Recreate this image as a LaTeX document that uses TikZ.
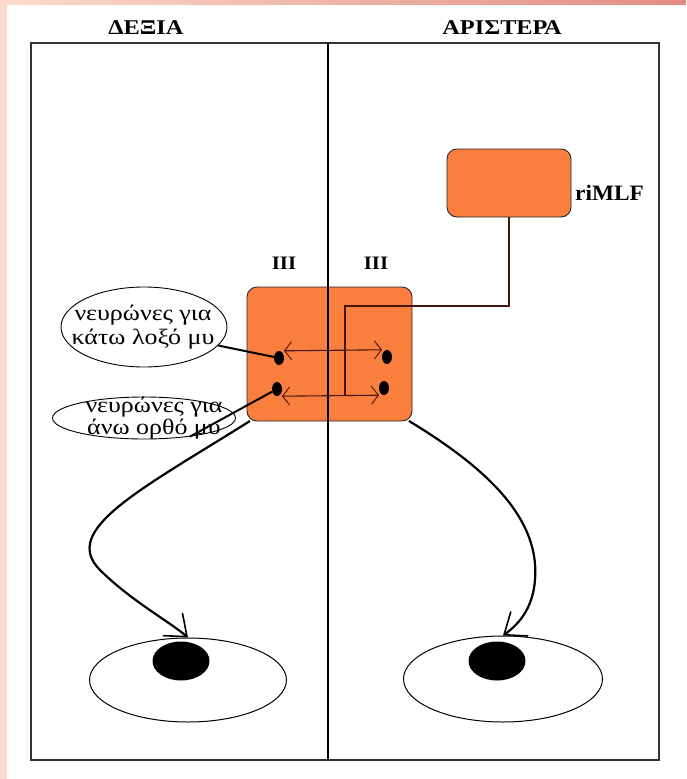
\documentclass[tikz,border=0pt]{standalone}
\usepackage{fontspec}
\usepackage{graphicx}
\setmainfont{Liberation Serif}
\usetikzlibrary{arrows.meta,shapes.geometric}
\definecolor{boxorange}{RGB}{250,126,62}
\definecolor{edgepink}{RGB}{252,218,206}
\definecolor{edgesalmon}{RGB}{226,140,132}
\definecolor{wire}{RGB}{70,22,16}
% slightly widened lettering
\newcommand{\widen}[2]{\scalebox{#1}[1]{#2}}

\begin{document}
\begin{tikzpicture}[x=1pt,y=-1pt,
  heading/.style={font=\bfseries\fontsize{21}{24}\selectfont, inner sep=0pt},
  numeral/.style={font=\bfseries\fontsize{19}{22}\selectfont, inner sep=0pt},
  caption/.style={align=center, inner sep=0pt},
  nucleus/.style={draw=black!85, fill=boxorange, rounded corners=10pt, line width=0.9pt, inner sep=0pt},
  bubble/.style={draw=black, ellipse, line width=0.9pt, inner sep=0pt},
  eyeball/.style={draw=black, ellipse, line width=1pt, inner sep=0pt},
  pupil/.style={fill=black, ellipse, inner sep=0pt, minimum width=57pt, minimum height=39pt},
  neuron/.style={fill=black, ellipse, inner sep=0pt, minimum width=10pt, minimum height=14pt},
  fibre/.style={line width=2pt, black},
  nerve/.style={line width=2.2pt, black, -{Straight Barb[length=19pt, width=30pt, line width=1.6pt]}},
  link/.style={line width=1.1pt, wire, {Straight Barb[length=7pt, width=18pt, line width=0.9pt]}-{Straight Barb[length=7pt, width=18pt, line width=0.9pt]}},
  panel/.style={line width=1.3pt, black!80}
]
\useasboundingbox (0,0) rectangle (686,779);
\fill[white] (0,0) rectangle (686,779);
% page edging
\fill[edgepink] (0,0) rectangle (7,779);
\shade[left color=edgepink, right color=edgesalmon] (0,0) rectangle (686,4);

% headings
\node[heading] (hright) at (146,28) {\widen{1.16}{ΔΕΞΙΑ}};
\node[heading] (hleft) at (502,28) {\widen{1.16}{ΑΡΙΣΤΕΡΑ}};

% nuclei
\node[nucleus, minimum width=165pt, minimum height=134pt] (III) at (329.5,354) {};
\node[nucleus, minimum width=124pt, minimum height=68pt] (riMLF) at (509,183) {};
\node[font=\bfseries\fontsize{22}{24}\selectfont, anchor=west, inner sep=0pt] (riMLFtext) at (575,193) {\widen{1.06}{riMLF}};
\node[numeral] (IIIr) at (284,263) {\widen{1.1}{III}};
\node[numeral] (IIIl) at (376,263) {\widen{1.1}{III}};

% panels
\draw[panel] (31,43) rectangle (659,760);
\coordinate (midtop) at (328,43);
\coordinate (midbot) at (328,760);
\draw[line width=1.1pt, black] (midtop) -- (midbot);

% caption bubbles
\node[bubble, minimum width=166pt, minimum height=80pt] (ellTop) at (144,327) {};
\node[caption, font=\fontsize{22}{24}\selectfont] (txtTop) at (143,327)
  {\widen{1.18}{νευρώνες για}\\\widen{1.18}{κάτω λοξό μυ}};
\node[bubble, minimum width=183pt, minimum height=42pt] (ellBot) at (144,418) {};
\node[caption, font=\fontsize{22}{20}\selectfont] (txtBot) at (154,418)
  {\widen{1.18}{νευρώνες για}\\\widen{1.18}{άνω ορθό μυ}};

% neurons inside the oculomotor nuclei
\coordinate (bend) at (345,306);
\coordinate (join) at (345,395);
\draw[line width=1.1pt, wire] (riMLF.south) |- (bend) -- (join);

\node[neuron] (L1) at (279,358) {};
\node[neuron] (R1) at (387,357) {};
\node[neuron] (L2) at (277,389) {};
\node[neuron] (R2) at (384,388) {};

\draw[link] ([xshift=5pt]L1.north) -- ([xshift=-5pt]R1.north);
\draw[link] ([xshift=5pt]L2.south) -- ([xshift=-5pt]R2.south);

\draw[fibre] (ellTop.-14) -- (L1);
\draw[fibre] (ellBot.-22) -- (L2);

% eyes
\node[eyeball, minimum width=197pt, minimum height=84pt] (eyeL) at (188,680) {};
\node[pupil] (pupL) at (181,661) {};
\node[eyeball, minimum width=199pt, minimum height=86pt] (eyeR) at (503,679) {};
\node[pupil] (pupR) at (497,661) {};

% nerves to the eyes
\draw[nerve] (250,421) .. controls (140,490) and (60,530) .. (100,570)
  .. controls (130,600) and (170,622) .. (eyeL.north);
\draw[nerve] (409,421) .. controls (490,470) and (540,520) .. (535,580)
  .. controls (533,605) and (522,622) .. (eyeR.north);
\end{tikzpicture}
\end{document}
